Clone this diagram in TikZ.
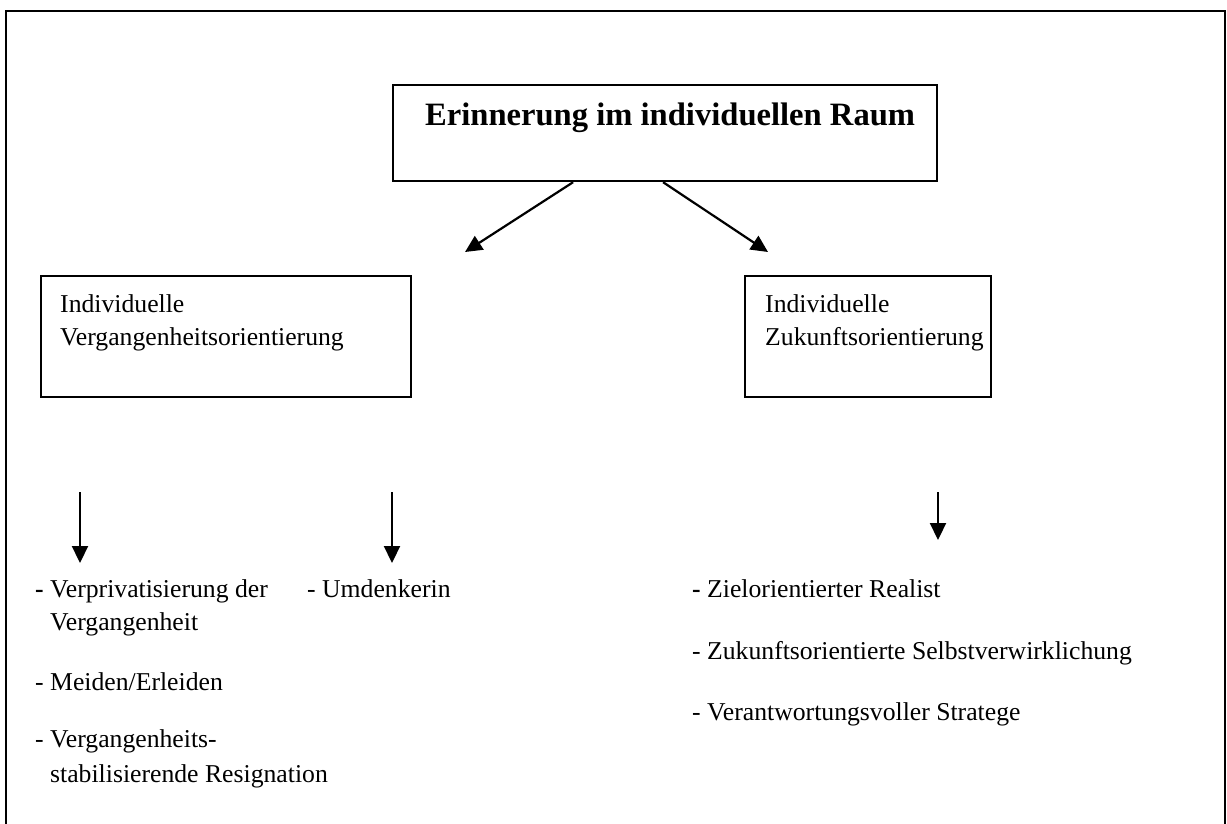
\documentclass[tikz,border=0pt]{standalone}
\usepackage{fontspec}
\setmainfont{Liberation Serif}
\usetikzlibrary{arrows.meta}
\begin{document}
\begin{tikzpicture}[x=1pt,y=-1pt,
  box/.style={draw,line width=2.2pt,anchor=north west,inner sep=0pt},
  txt/.style={anchor=base west,inner sep=0pt,align=left,font=\fontsize{25.7}{33}\selectfont},
  arr/.style={-{Triangle[length=17pt,width=16pt]},line width=2.2pt}]
  \useasboundingbox (0,0) rectangle (1227,823);
  \clip (0,0) rectangle (1227,823);
  \draw[line width=2.2pt] (6,11) rectangle (1225,840);

  \node[box,minimum width=544pt,minimum height=96pt] (raum) at (392,84) {};
  \node[txt,anchor=base,font=\fontsize{32.6}{38}\bfseries\selectfont] (raumtext)
    at ([xshift=5pt,yshift=-41pt]raum.north) {Erinnerung im individuellen Raum};

  % Boxen: Textanker liegt auf der letzten Zeile
  \node[box,minimum width=370pt,minimum height=121pt] (vergangen) at (40,275) {};
  \node[txt] (vergangentext) at ([xshift=20pt,yshift=-70pt]vergangen.north west)
    {Individuelle\\Vergangenheitsorientierung};
  \node[box,minimum width=246pt,minimum height=121pt] (zukunft) at (744,275) {};
  \node[txt] (zukunfttext) at ([xshift=21pt,yshift=-70pt]zukunft.north west)
    {Individuelle\\Zukunftsorientierung};

  \coordinate (linksziel) at (465,252);
  \coordinate (rechtsziel) at (768,252);
  \draw[arr] ([xshift=-92pt]raum.south) -- (linksziel);
  \draw[arr] ([xshift=-2pt]raum.south) -- (rechtsziel);

  \coordinate (pfeilA) at (80,492);   \coordinate (spitzeA) at (80,563);
  \coordinate (pfeilB) at (392,492);  \coordinate (spitzeB) at (392,563);
  \coordinate (pfeilC) at (938,492);  \coordinate (spitzeC) at (938,540);
  \draw[arr] (pfeilA) -- (spitzeA);
  \draw[arr] (pfeilB) -- (spitzeB);
  \draw[arr] (pfeilC) -- (spitzeC);

  \node[txt] (verpriv) at (35,630)
    {\textbf{-} Verprivatisierung der\\\phantom{\textbf{-} }Vergangenheit};
  \node[txt] (umdenk) at (307,597) {- Umdenkerin};
  \node[txt] (meiden) at (35,690) {- Meiden/Erleiden};
  \node[txt] (resign) at (35,782)
    {- Vergangenheits-\\[2pt]\phantom{- }stabilisierende Resignation};

  \node[txt] (realist) at (692,597) {\textbf{-} Zielorientierter Realist};
  \node[txt] (selbst) at (692,659) {- Zukunftsorientierte Selbstverwirklichung};
  \node[txt] (stratege) at (692,720) {- Verantwortungsvoller Stratege};
\end{tikzpicture}
\end{document}
